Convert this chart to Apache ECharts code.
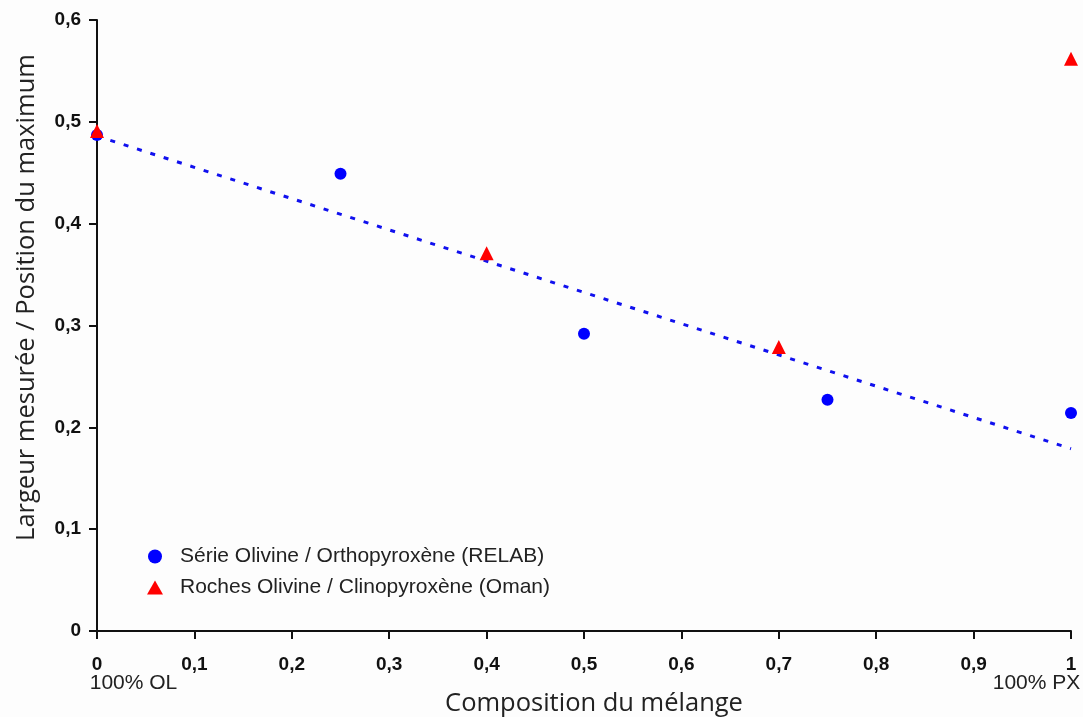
<!DOCTYPE html>
<html>
<head>
<meta charset="utf-8">
<script src="https://cdn.jsdelivr.net/npm/echarts@6/dist/echarts.min.js"></script>
<style>html,body{margin:0;padding:0;background:#fff}#c{width:1083px;height:717px}</style>
</head>
<body>
<div id="c"></div>
<script>
const seriesNames = ["Série Olivine / Orthopyroxène (RELAB)", "Roches Olivine / Clinopyroxène (Oman)"];
const relabX = [0, 0.25, 0.5, 0.75, 1];
const relabY = [0.487, 0.449, 0.292, 0.227, 0.214];
const omanX = [0, 0.4, 0.7, 1];
const omanY = [0.491, 0.371, 0.279, 0.562];
const trendX = [0, 1];
const trendY = [0.486, 0.179];
const xEndLabels = {0: "100% OL", 1: "100% PX"};
const xName = "Composition du mélange";
const yName = "Largeur mesurée / Position du maximum";

const zip = (a, b) => a.map((v, i) => [v, b[i]]);
const fmt = v => String(Math.round(v * 10) / 10).replace('.', ',');

const chart = echarts.init(document.getElementById('c'), null, {renderer: 'canvas'});
chart.setOption({
  backgroundColor: '#fdfdfd',
  animation: false,
  grid: {left: 97, right: 12, top: 20, bottom: 86, containLabel: false, outerBoundsMode: 'none'},
  legend: {
    orient: 'vertical', left: 142, top: 541, itemGap: 10,
    itemWidth: 16, itemHeight: 14,
    textStyle: {fontFamily: 'Liberation Sans', fontSize: 21, color: '#222', padding: [0, 0, 0, 12]},
    data: [{name: seriesNames[0], icon: 'circle'}, {name: seriesNames[1], icon: 'triangle'}]
  },
  xAxis: [{
    type: 'value', min: 0, max: 1, interval: 0.1,
    name: xName, nameLocation: 'middle', nameGap: 60,
    nameTextStyle: {fontFamily: 'Open Sans', fontSize: 25.5, color: '#222', padding: [0, 0, 0, 20]},
    axisLine: {onZero: false, lineStyle: {color: '#111', width: 2}},
    axisTick: {show: true, length: 8, lineStyle: {color: '#111', width: 2}},
    splitLine: {show: false},
    axisLabel: {formatter: fmt, margin: 24, fontFamily: 'Liberation Sans', fontWeight: 'bold', fontSize: 19, color: '#111'}
  }, {
    type: 'value', min: 0, max: 1, interval: 1, position: 'bottom',
    axisLine: {show: false}, axisTick: {show: false}, splitLine: {show: false},
    axisLabel: {
      formatter: v => (v === 0 ? '{l|' : '{r|') + (xEndLabels[v] || '') + '}',
      margin: 42, fontFamily: 'Liberation Sans', fontSize: 21, color: '#222',
      rich: {
        l: {fontFamily: 'Liberation Sans', fontSize: 21, color: '#222', padding: [0, 0, 0, 73]},
        r: {fontFamily: 'Liberation Sans', fontSize: 21, color: '#222', padding: [0, 69, 0, 0]}
      }
    }
  }],
  yAxis: {
    type: 'value', min: 0, max: 0.6, interval: 0.1,
    name: yName, nameLocation: 'middle', nameGap: 57,
    nameTextStyle: {fontFamily: 'Open Sans', fontSize: 25.5, color: '#222', padding: [0, 0, 0, 56]},
    axisLine: {show: true, onZero: false, lineStyle: {color: '#111', width: 2}},
    axisTick: {show: true, length: 8, lineStyle: {color: '#111', width: 2}},
    splitLine: {show: false},
    axisLabel: {formatter: fmt, margin: 16, fontFamily: 'Liberation Sans', fontWeight: 'bold', fontSize: 19, color: '#111'}
  },
  series: [{
    name: 'trend', type: 'line', data: zip(trendX, trendY), symbol: 'none', silent: true,
    lineStyle: {color: '#1010ee', width: 3, type: [5, 9]}, z: 1
  }, {
    name: seriesNames[0], type: 'scatter', data: zip(relabX, relabY),
    symbol: 'circle', symbolSize: 12, itemStyle: {color: '#0000ff', opacity: 1}, z: 3
  }, {
    name: seriesNames[1], type: 'scatter', data: zip(omanX, omanY),
    symbol: 'triangle', symbolSize: 14, itemStyle: {color: '#ff0000', opacity: 1}, z: 4
  }]
});
</script>
</body>
</html>
